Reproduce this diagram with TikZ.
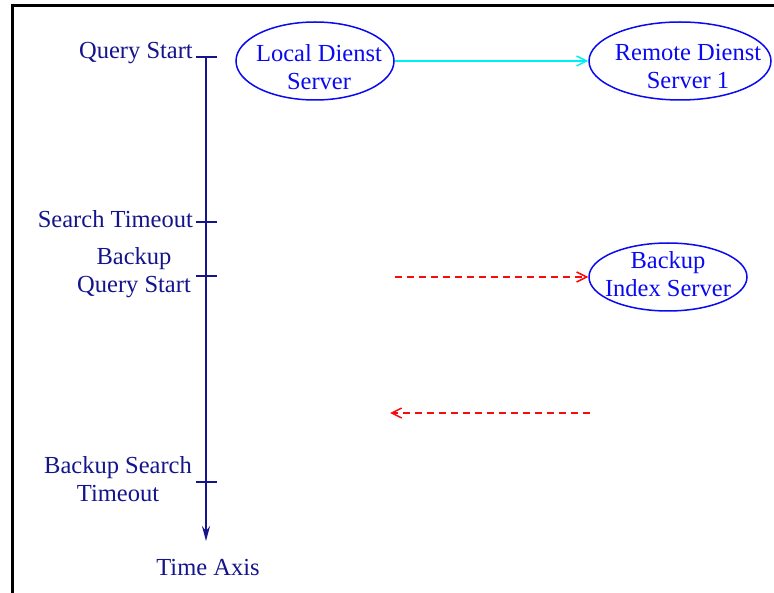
\documentclass[tikz,border=0pt]{standalone}
\usepackage{fontspec}
\setmainfont{Liberation Serif}
\usetikzlibrary{arrows.meta,shapes.geometric}
\definecolor{labelnavy}{RGB}{20,20,140}
\definecolor{srvblue}{RGB}{10,10,240}
\definecolor{msgcyan}{RGB}{0,240,240}
\definecolor{msgred}{RGB}{250,10,10}
\tikzset{
  lbl/.style={text=labelnavy, font=\fontsize{24.5}{28}\selectfont, inner sep=0pt, align=center},
  srv/.style={ellipse, draw=srvblue, line width=1.5pt, inner sep=0pt},
  srvtext/.style={text=srvblue, font=\fontsize{24.5}{28}\selectfont, inner sep=0pt, align=center},
  axisline/.style={draw=labelnavy, line width=2pt},
  tick/.style={draw=labelnavy, line width=1.8pt},
  query/.style={draw=msgcyan, line width=1.5pt, -{Straight Barb[length=10pt,width=10pt,line width=1.5pt]}},
  backup/.style={draw=msgred, line width=1.8pt, dash pattern=on 7pt off 5pt,
    -{Straight Barb[length=10pt,width=10pt,line width=1.5pt]}},
}
\begin{document}
\begin{tikzpicture}[x=1pt,y=-1pt]
\useasboundingbox (0,0) rectangle (774,593);
% frame
\draw[line width=3pt] (12,593) -- (12,6) -- (774,6);

% time axis
\coordinate (ax0) at (206,57);
\coordinate (ax1) at (206,541);
\coordinate (tk1) at (206,57);
\coordinate (tk2) at (206,222);
\coordinate (tk3) at (206,276);
\coordinate (tk4) at (206,482);
\draw[axisline, -{Stealth[length=15pt,width=8pt,inset=5pt]}] (ax0) -- (ax1);
\foreach \t in {tk1,tk2,tk3,tk4}
  \draw[tick] ([xshift=-10pt]\t) -- ([xshift=11pt]\t);

% axis labels
\node[lbl, anchor=east] (qs) at (193,53) {Query Start};
\node[lbl, anchor=east] (st) at (193,219) {Search Timeout};
\node[lbl] (bqs) at (134,273) {Backup\\Query Start};
\node[lbl] (bst) at (118,479) {Backup Search\\Timeout};
\node[lbl] (ta) at (208,568) {Time Axis};

% servers
\node[srv, minimum width=158, minimum height=78] (local) at (315,61) {};
\node[srvtext] (localtxt) at (319,67) {Local Dienst\\Server};
\node[srv, minimum width=182, minimum height=78] (remote) at (680,61) {};
\node[srvtext] (remotetxt) at (688,67) {Remote Dienst\\Server 1};
\node[srv, minimum width=158, minimum height=68] (bidx) at (668,277) {};
\node[srvtext] (bidxtxt) at (668,274) {Backup\\Index Server};

% messages
\draw[query] (local.east) -- (remote.west);
\coordinate (bq0) at (395,277);
\draw[backup] (bq0) -- (bidx.west);
\coordinate (br0) at (590,413);
\coordinate (br1) at (390,413);
\draw[backup] (br0) -- (br1);
\end{tikzpicture}
\end{document}
